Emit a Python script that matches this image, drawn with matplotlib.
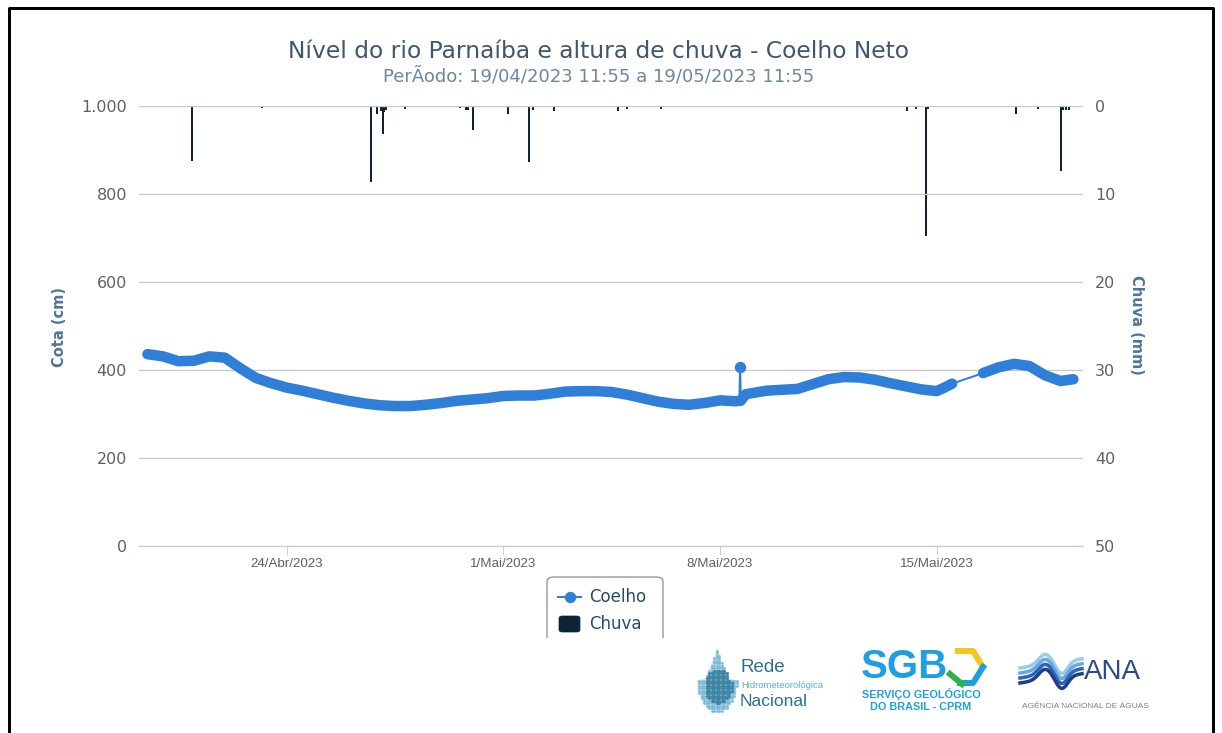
import matplotlib
matplotlib.use("Agg")
import matplotlib.pyplot as plt
import matplotlib.dates as mdates
from matplotlib import font_manager
from matplotlib.patches import FancyBboxPatch, Rectangle, Polygon
from matplotlib.lines import Line2D
import numpy as np
import pandas as pd

# ---------------- data ----------------
titulo = "Nível do rio Parnaíba e altura de chuva - Coelho Neto"
subtitulo = "PerÃodo: 19/04/2023 11:55 a 19/05/2023 11:55"

cota_datas = [
    "2023-04-19 12:00", "2023-04-20 00:00", "2023-04-20 12:00", "2023-04-21 00:00",
    "2023-04-21 12:00", "2023-04-22 00:00", "2023-04-22 12:00", "2023-04-23 00:00",
    "2023-04-23 12:00", "2023-04-24 00:00", "2023-04-24 12:00", "2023-04-25 00:00",
    "2023-04-25 12:00", "2023-04-26 00:00", "2023-04-26 12:00", "2023-04-27 00:00",
    "2023-04-27 12:00", "2023-04-28 00:00", "2023-04-28 12:00", "2023-04-29 00:00",
    "2023-04-29 12:00", "2023-04-30 00:00", "2023-04-30 12:00", "2023-05-01 00:00",
    "2023-05-01 12:00", "2023-05-02 00:00", "2023-05-02 12:00", "2023-05-03 00:00",
    "2023-05-03 12:00", "2023-05-04 00:00", "2023-05-04 12:00", "2023-05-05 00:00",
    "2023-05-05 12:00", "2023-05-06 00:00", "2023-05-06 12:00", "2023-05-07 00:00",
    "2023-05-07 12:00", "2023-05-08 00:00", "2023-05-08 12:00", "2023-05-08 16:00",
    "2023-05-08 20:00", "2023-05-09 06:00", "2023-05-09 12:00", "2023-05-10 00:00",
    "2023-05-10 12:00", "2023-05-11 00:00", "2023-05-11 12:00", "2023-05-12 00:00",
    "2023-05-12 12:00", "2023-05-13 00:00", "2023-05-13 12:00", "2023-05-14 00:00",
    "2023-05-14 12:00", "2023-05-15 00:00", "2023-05-15 06:00", "2023-05-15 12:00",
    "2023-05-16 12:00", "2023-05-17 00:00", "2023-05-17 12:00", "2023-05-18 00:00",
    "2023-05-18 12:00", "2023-05-19 00:00", "2023-05-19 10:00",
]
cota_valores = [
    436, 431, 420, 421,
    431, 428, 404, 382,
    370, 360, 353, 345,
    337, 330, 324, 320,
    318, 318, 321, 325,
    330, 333, 336, 341,
    342, 342, 346, 351,
    352, 352, 350, 344,
    336, 328, 323, 321,
    325, 331, 329, 330,
    345, 350, 353, 355,
    357, 368, 379, 384,
    383, 378, 370, 363,
    356, 352, 360, 369,
    393, 406, 414, 409,
    388, 375, 379,
]

# isolated high reading on 8/May
pico_datas = ["2023-05-08 15:00", "2023-05-08 15:35", "2023-05-08 16:10"]
pico_cota = [330, 407, 331]

chuva_datas = [
    "2023-04-20 22:45", "2023-04-23 04:35", "2023-04-26 17:23", "2023-04-26 22:00",
    "2023-04-27 01:08", "2023-04-27 02:25", "2023-04-27 03:50", "2023-04-27 05:00",
    "2023-04-27 19:40", "2023-04-29 14:25", "2023-04-29 19:00", "2023-04-29 20:35",
    "2023-04-30 00:40", "2023-05-01 03:50", "2023-05-01 19:55", "2023-05-01 23:15",
    "2023-05-02 15:35", "2023-05-04 16:35", "2023-05-04 23:45", "2023-05-06 02:10",
    "2023-05-14 01:15", "2023-05-14 08:20", "2023-05-14 15:35", "2023-05-14 17:35",
    "2023-05-17 13:15", "2023-05-18 06:45", "2023-05-19 00:15", "2023-05-19 02:00",
    "2023-05-19 04:20", "2023-05-19 06:40",
]
chuva_mm = [
    6.2, 0.2, 8.6, 0.9,
    0.6, 3.2, 0.7, 0.5,
    0.3, 0.2, 0.4, 0.5,
    2.7, 0.9, 6.4, 0.5,
    0.6, 0.6, 0.3, 0.3,
    0.6, 0.3, 14.8, 0.3,
    0.9, 0.3, 7.4, 0.4,
    0.5, 0.4,
]

xtick_datas = ["2023-04-24", "2023-05-01", "2023-05-08", "2023-05-15"]
xtick_rotulos = ["24/Abr/2023", "1/Mai/2023", "8/Mai/2023", "15/Mai/2023"]
cota_ticks = [0, 200, 400, 600, 800, 1000]
cota_rotulos = ["0", "200", "400", "600", "800", "1.000"]
chuva_ticks = [0, 10, 20, 30, 40, 50]

# ---------------- style ----------------
C_LINE = "#2f7ed8"
C_BAR = "#0d233a"
C_TITLE = "#3E576F"
C_SUB = "#6D869F"
C_AXT = "#4d759e"
C_LAB = "#606060"

avail = {f.name for f in font_manager.fontManager.ttflist}
UI = "DejaVu Sans"
ARIAL = "Liberation Sans" if "Liberation Sans" in avail else "DejaVu Sans"
NARROW = "Liberation Sans Narrow" if "Liberation Sans Narrow" in avail else ARIAL

W, H = 1222, 733
fig = plt.figure(figsize=(W / 100, H / 100), dpi=100)
fig.patch.set_facecolor("white")
PT = 72 / 100  # points per pixel


def fx(px):
    return px / W


def fy(py):
    return 1 - py / H


L, R, T, B = 139, 1083, 106, 546
ax = fig.add_axes([fx(L), fy(B), (R - L) / W, (B - T) / H])
ax.set_facecolor("none")

t_cota = pd.to_datetime(cota_datas)
x_cota = mdates.date2num(t_cota)
v_cota = np.array(cota_valores, dtype=float)

# split into continuous runs (gap > 13h -> thin connecting line only)
gaps = np.where(np.diff(x_cota) > 13 / 24)[0]
starts = np.r_[0, gaps + 1]
ends = np.r_[gaps + 1, len(x_cota)]

ax.plot(x_cota, v_cota, color=C_LINE, lw=2 * PT, zorder=4)
for s, e in zip(starts, ends):
    ax.plot(x_cota[s:e], v_cota[s:e], color=C_LINE, lw=10.5 * PT,
            solid_capstyle="round", solid_joinstyle="round", zorder=5)

x_pico = mdates.date2num(pd.to_datetime(pico_datas))
ax.plot(x_pico, pico_cota, color=C_LINE, lw=2 * PT, zorder=5)
ax.plot(x_pico[1], pico_cota[1], "o", color=C_LINE, ms=10 * PT, zorder=6)

# x range
x0 = mdates.date2num(pd.Timestamp("2023-04-19 05:28"))
x1 = mdates.date2num(pd.Timestamp("2023-05-19 17:30"))
ax.set_xlim(x0, x1)
ax.set_ylim(0, 1000)
ax.set_yticks(cota_ticks)
ax.set_yticklabels(cota_rotulos)
ax.set_xticks(mdates.date2num(pd.to_datetime(xtick_datas)))
ax.set_xticklabels(xtick_rotulos)
ax.tick_params(axis="y", length=0, pad=12 * PT, labelsize=11.5, labelcolor=C_LAB)
ax.tick_params(axis="x", length=9 * PT, width=1 * PT, color="#C0D0E0", direction="out",
               pad=2, labelsize=9.6, labelcolor=C_LAB)
for lb in ax.get_xticklabels():
    lb.set_fontfamily(ARIAL)
for lb in ax.get_yticklabels():
    lb.set_fontfamily(UI)
ax.grid(axis="y", color="#C8C8C8", lw=1.3 * PT, zorder=0)
ax.set_axisbelow(True)
for s in ["top", "left", "right"]:
    ax.spines[s].set_visible(False)
ax.spines["bottom"].set_color("#C0D0E0")
ax.spines["bottom"].set_linewidth(1.3 * PT)
ax.spines["bottom"].set_zorder(3)

# rain on inverted secondary axis
ax2 = ax.twinx()
ax2.set_facecolor("none")
x_ch = mdates.date2num(pd.to_datetime(chuva_datas))
ax2.bar(x_ch, chuva_mm, width=2.0 / 30.95, bottom=0, color=C_BAR, align="center",
        linewidth=0, zorder=3)
ax2.set_ylim(50, 0)
ax2.set_xlim(x0, x1)
ax2.set_yticks(chuva_ticks)
ax2.tick_params(axis="y", length=0, pad=12 * PT, labelsize=11.5, labelcolor=C_LAB)
for lb in ax2.get_yticklabels():
    lb.set_fontfamily(UI)
for s in ["top", "left", "right", "bottom"]:
    ax2.spines[s].set_visible(False)
ax.set_zorder(ax2.get_zorder() + 1)

# axis titles
fig.text(fx(60), fy(327), "Cota (cm)", rotation=90, ha="center", va="center",
         color=C_AXT, fontsize=10.5, fontweight="bold", family=UI)
fig.text(fx(1137), fy(325), "Chuva (mm)", rotation=270, ha="center", va="center",
         color=C_AXT, fontsize=10.5, fontweight="bold", family=UI)

# titles
fig.text(fx(599), fy(52), titulo, ha="center", va="center", color=C_TITLE,
         fontsize=16.8, family=UI)
fig.text(fx(599), fy(76), subtitulo, ha="center", va="center", color=C_SUB,
         fontsize=13, family=UI)

# legend (box clipped at bottom like the screenshot)
clip = Rectangle((0, fy(638)), 1, 1, transform=fig.transFigure, visible=False)
fig.add_artist(clip)
box = FancyBboxPatch((fx(547), fy(680)), (663 - 547) / W, (680 - 577) / H,
                     boxstyle="round,pad=0,rounding_size=0.006",
                     transform=fig.transFigure, facecolor="white",
                     edgecolor="#909090", lw=1.3 * PT)
fig.add_artist(box)
box.set_clip_path(clip)
fig.add_artist(Line2D([fx(558), fx(581)], [fy(597), fy(597)], color=C_LINE,
                      lw=2 * PT, transform=fig.transFigure))
fig.add_artist(Line2D([fx(569.5)], [fy(597)], marker="o", ms=10 * PT, color=C_LINE,
                      transform=fig.transFigure))
fig.text(fx(589), fy(597), "Coelho", ha="left", va="center", color="#274b6d",
         fontsize=12, family=UI)
fig.add_artist(FancyBboxPatch((fx(559), fy(632)), (580 - 559) / W, (632 - 616) / H,
                              boxstyle="round,pad=0,rounding_size=0.003",
                              transform=fig.transFigure, facecolor=C_BAR,
                              edgecolor=C_BAR, lw=0.5))
fig.text(fx(589), fy(624), "Chuva", ha="left", va="center", color="#274b6d",
         fontsize=12, family=UI)

# ---------------- logos (approximate) ----------------
# Rede Hidrometeorologica Nacional: dotted drop
tt = np.linspace(0, 2 * np.pi, 120)
dy = 679 + 33 * np.cos(tt)
wid = np.where(np.cos(tt) < 0, 20 * np.sin(tt) * (1 + np.cos(tt)) * 0.6,
               20 * np.sin(tt))
dx = 717 + wid
drop = Polygon(np.c_[fx(dx), fy(dy)], closed=True, transform=fig.transFigure,
               facecolor="#a9d2e6", edgecolor="none", alpha=0.6)
fig.add_artist(drop)
gx, gy = np.meshgrid(np.arange(699, 737, 2.5), np.arange(648, 713, 2.5))
pts = np.c_[fx(gx.ravel()), fy(gy.ravel())]
inside = drop.get_path().contains_points(pts)
dist = np.hypot(gx.ravel() - 718, (gy.ravel() - 686) * 0.8)
dark = inside & (dist < 14)
light = inside & ~dark
fig.add_artist(Line2D(fx(gx.ravel()[light]), fy(gy.ravel()[light]), ls="none",
                      marker="o", ms=1.0, color="#7db9d6", transform=fig.transFigure))
fig.add_artist(Line2D(fx(gx.ravel()[dark]), fy(gy.ravel()[dark]), ls="none",
                      marker="o", ms=1.3, color="#3f86a6", transform=fig.transFigure))
fig.text(fx(740), fy(668), "Rede", ha="left", va="center", color="#2a7191",
         fontsize=13.5, family=NARROW)
fig.text(fx(741), fy(685), "Hidrometeorológica", ha="left", va="center",
         color="#5ab0d0", fontsize=6.8, family=NARROW)
fig.text(fx(740), fy(701), "Nacional", ha="left", va="center", color="#2a7191",
         fontsize=12.5, family=NARROW)

# SGB
fig.text(fx(861), fy(667), "SGB", ha="left", va="center", color="#1e9fe3",
         fontsize=29, fontweight="bold", family=ARIAL)
hexa = [(958, 651), (973, 651), (983, 667), (973, 683), (960, 683)]
fig.add_artist(Line2D([fx(p[0]) for p in hexa[:3]], [fy(p[1]) for p in hexa[:3]],
                      color="#f5c51a", lw=6 * PT, transform=fig.transFigure))
fig.add_artist(Line2D([fx(p[0]) for p in hexa[2:]], [fy(p[1]) for p in hexa[2:]],
                      color="#1e9fe3", lw=6 * PT, transform=fig.transFigure))
fig.add_artist(Line2D([fx(950), fx(962)], [fy(674), fy(684)], color="#2db34a",
                      lw=6 * PT, transform=fig.transFigure))
fig.text(fx(921), fy(694), "SERVIÇO GEOLÓGICO", ha="center", va="center",
         color="#1e9fe3", fontsize=7.8, fontweight="bold", family=ARIAL)
fig.text(fx(921), fy(707), "DO BRASIL - CPRM", ha="center", va="center",
         color="#1e9fe3", fontsize=7.8, fontweight="bold", family=ARIAL)

# ANA
wx = np.linspace(1020, 1082, 60)
for k, col in enumerate(["#9ccbe9", "#6aa8dc", "#2f66b3", "#1d3f8a"]):
    wy = (668 + 5 * k - 10 * np.exp(-((wx - 1045) / 9) ** 2)
          + 12 * np.exp(-((wx - 1062) / 8) ** 2) - 0.15 * (wx - 1020))
    fig.add_artist(Line2D(fx(wx), fy(wy), color=col, lw=3.5 * PT,
                          transform=fig.transFigure))
fig.text(fx(1084), fy(672), "ANA", ha="left", va="center", color="#2a4a8c",
         fontsize=20, family=ARIAL)
fig.text(fx(1085), fy(706), "AGÊNCIA NACIONAL DE ÁGUAS", ha="center", va="center",
         color="#808080", fontsize=6, family=ARIAL)

# outer frame of the screenshot
fig.add_artist(Line2D([fx(9), fx(9), fx(1213), fx(1213)], [fy(740), fy(8), fy(8), fy(740)],
                      color="black", lw=3 * PT, transform=fig.transFigure))

fig.savefig("out.png", dpi=100)
